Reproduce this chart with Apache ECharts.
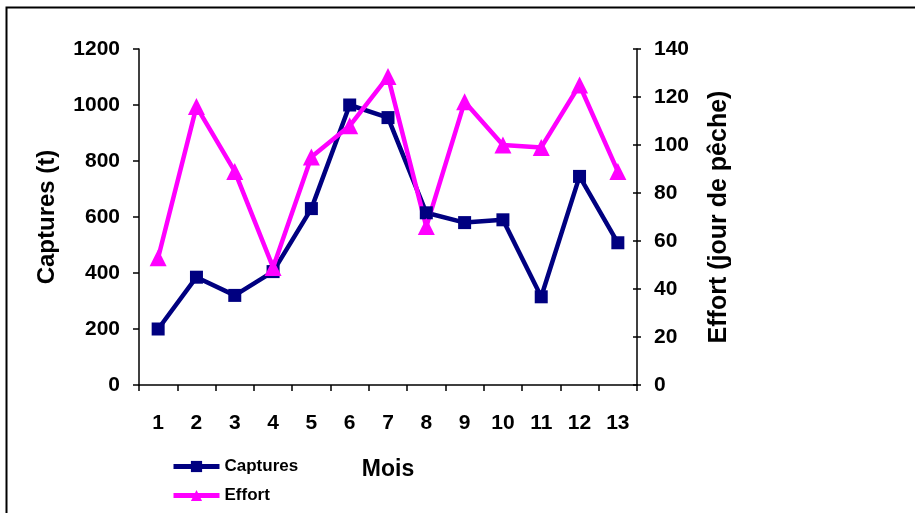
<!DOCTYPE html>
<html>
<head>
<meta charset="utf-8">
<script src="https://cdn.jsdelivr.net/npm/echarts@6/dist/echarts.min.js"></script>
<style>
html,body{margin:0;padding:0;background:#fff;}
#chart{width:915px;height:513px;}
</style>
</head>
<body>
<div id="chart"></div>
<script>
const months = ['1','2','3','4','5','6','7','8','9','10','11','12','13'];
const captures = [200, 385, 320, 405, 630, 1000, 955, 615, 580, 590, 315, 745, 508];
const effort = [53, 116, 89, 49, 95, 108, 128.5, 66, 118, 100, 99, 125, 89];

const FONT = '"Liberation Sans", Arial, sans-serif';
const chart = echarts.init(document.getElementById('chart'));
const axisLineStyle = {color: '#000', width: 1.5};
const plain = v => String(v);
chart.setOption({
  backgroundColor: '#fff',
  animation: false,
  graphic: [{
    type: 'rect', left: 4, top: 5, shape: {width: 930, height: 540},
    style: {fill: 'none', stroke: '#000', lineWidth: 2}
  }],
  grid: {left: 139, right: 278, top: 49, bottom: 128},
  legend: {
    orient: 'vertical', left: 166, top: 453, itemWidth: 46, itemHeight: 14, itemGap: 12,
    lineStyle: {width: 5},
    textStyle: {fontFamily: FONT, fontWeight: 'bold', fontSize: 17, color: '#000'},
    data: ['Captures', 'Effort']
  },
  xAxis: {
    type: 'category', data: months, boundaryGap: true,
    name: 'Mois', nameLocation: 'middle', nameGap: 73,
    nameTextStyle: {fontFamily: FONT, fontWeight: 'bold', fontSize: 23, color: '#000'},
    axisLine: {lineStyle: axisLineStyle},
    axisTick: {show: true, length: 6, lineStyle: axisLineStyle, alignWithLabel: false},
    axisLabel: {fontFamily: FONT, fontWeight: 'bold', fontSize: 21, color: '#000', margin: 28}
  },
  yAxis: [{
    type: 'value', min: 0, max: 1200, interval: 200, position: 'left',
    name: 'Captures (t)', nameLocation: 'middle', nameGap: 80, nameRotate: 90,
    nameTextStyle: {fontFamily: FONT, fontWeight: 'bold', fontSize: 24, color: '#000'},
    axisLine: {show: true, lineStyle: axisLineStyle},
    axisTick: {show: true, length: 6, lineStyle: axisLineStyle},
    axisLabel: {fontFamily: FONT, fontWeight: 'bold', fontSize: 21, color: '#000', margin: 19, formatter: plain},
    splitLine: {show: false}
  }, {
    type: 'value', min: 0, max: 140, interval: 20, position: 'right',
    name: 'Effort (jour de pêche)', nameLocation: 'middle', nameGap: 70, nameRotate: 90,
    nameTextStyle: {fontFamily: FONT, fontWeight: 'bold', fontSize: 25, color: '#000'},
    axisLine: {show: true, lineStyle: axisLineStyle},
    axisTick: {show: true, length: 4, lineStyle: axisLineStyle},
    axisLabel: {fontFamily: FONT, fontWeight: 'bold', fontSize: 21, color: '#000', margin: 17, formatter: plain},
    splitLine: {show: false}
  }, {
    type: 'value', min: 0, max: 140, interval: 20, position: 'right',
    axisLine: {show: false},
    axisTick: {show: true, inside: true, length: 4, lineStyle: axisLineStyle},
    axisLabel: {show: false},
    splitLine: {show: false}
  }],
  series: [{
    name: 'Captures', type: 'line', yAxisIndex: 0, data: captures,
    symbol: 'rect', symbolSize: 13,
    lineStyle: {color: '#000080', width: 4.5},
    itemStyle: {color: '#000080'}
  }, {
    name: 'Effort', type: 'line', yAxisIndex: 1, data: effort,
    symbol: 'triangle', symbolSize: 17,
    lineStyle: {color: '#FF00FF', width: 4.5},
    itemStyle: {color: '#FF00FF'}
  }]
});
</script>
</body>
</html>
